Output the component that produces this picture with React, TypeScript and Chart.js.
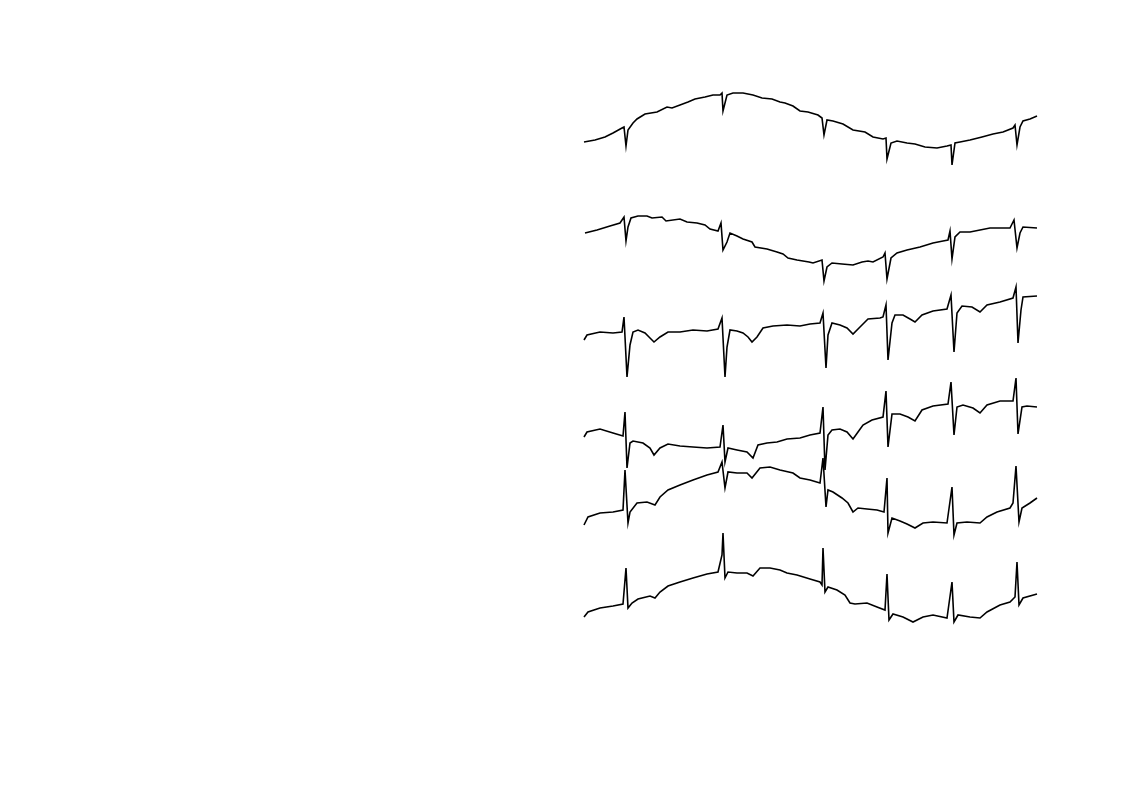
import React, { useEffect, useRef } from "react";
import { Chart, registerables } from "chart.js";

Chart.register(...registerables);

// Six stacked ECG leads. x = sample (ms/≈22), y = amplitude units incl. lead offset.
const lead1: number[][] = [
  [0, 498], [11, 500], [21, 503], [29, 507], [38, 512], [40, 513], [42, 494], [44, 510], [49, 517], [53, 521],
  [61, 526], [73, 528], [83, 533], [88, 532], [96, 535], [104, 538], [111, 541], [121, 543], [129, 545], [136, 545],
  [138, 547], [139, 529], [143, 545], [149, 547], [159, 547], [169, 545], [178, 542], [188, 541], [196, 538], [201, 537],
  [209, 534], [216, 529], [224, 528], [234, 525], [238, 522], [240, 505], [243, 520], [249, 519], [259, 516], [269, 510],
  [281, 508], [289, 503], [299, 501], [302, 502], [303, 481], [307, 497], [313, 499], [323, 497], [331, 496], [341, 493],
  [353, 492], [363, 494], [367, 495], [368, 475], [371, 497], [376, 498], [386, 500], [398, 503], [409, 506], [419, 508],
  [429, 512], [431, 515], [433, 495], [436, 513], [439, 519], [446, 521], [453, 524],
];

const lead2: number[][] = [
  [1, 407], [13, 410], [26, 414], [36, 417], [40, 423], [42, 399], [44, 413], [47, 422], [54, 424], [63, 424],
  [68, 422], [78, 423], [82, 419], [96, 421], [103, 418], [113, 417], [121, 415], [126, 411], [134, 409], [137, 417],
  [139, 390], [143, 398], [146, 407], [153, 404], [159, 401], [168, 398], [171, 393], [183, 391], [193, 388], [199, 386],
  [204, 382], [213, 380], [225, 378], [229, 377], [238, 380], [240, 359], [243, 373], [248, 377], [258, 376], [269, 375],
  [278, 378], [284, 379], [289, 378], [299, 383], [301, 387], [303, 361], [307, 382], [313, 387], [323, 390], [336, 393],
  [349, 397], [359, 399], [364, 400], [366, 409], [368, 381], [371, 403], [376, 408], [386, 408], [396, 410], [406, 412],
  [416, 412], [426, 412], [430, 420], [433, 392], [436, 407], [439, 413], [453, 412],
];

const lead3: number[][] = [
  [0, 300], [3, 305], [16, 308], [29, 307], [38, 308], [40, 323], [43, 263], [46, 295], [49, 308], [54, 310],
  [61, 307], [66, 302], [70, 298], [76, 303], [84, 308], [96, 308], [109, 310], [123, 309], [134, 311], [138, 322],
  [141, 263], [143, 293], [146, 310], [153, 309], [159, 307], [164, 303], [168, 298], [173, 303], [179, 312], [189, 314],
  [203, 315], [216, 314], [226, 316], [236, 317], [239, 327], [242, 272], [244, 305], [248, 317], [256, 315], [263, 312],
  [269, 306], [276, 313], [284, 321], [296, 322], [299, 323], [302, 335], [304, 280], [308, 317], [311, 325], [319, 325],
  [326, 321], [331, 318], [338, 325], [349, 329], [363, 331], [367, 345], [370, 288], [373, 327], [378, 334], [388, 333],
  [396, 328], [403, 335], [416, 338], [429, 342], [432, 353], [434, 297], [437, 330], [439, 343], [453, 344],
];

const lead4: number[][] = [
  [0, 203], [3, 208], [16, 211], [29, 207], [39, 204], [41, 228], [43, 172], [46, 197], [49, 199], [59, 197],
  [66, 192], [70, 185], [76, 192], [84, 196], [96, 194], [109, 193], [123, 192], [136, 193], [139, 215], [141, 178],
  [144, 192], [153, 190], [163, 188], [169, 182], [174, 195], [183, 197], [193, 198], [203, 201], [216, 202], [226, 205],
  [236, 207], [239, 233], [241, 170], [244, 205], [248, 210], [256, 211], [263, 208], [269, 201], [274, 208], [279, 215],
  [288, 220], [299, 223], [302, 249], [304, 193], [308, 226], [316, 226], [324, 223], [331, 219], [338, 230], [349, 234],
  [364, 236], [367, 258], [370, 205], [373, 233], [379, 235], [389, 232], [396, 227], [403, 235], [416, 239], [429, 239],
  [432, 262], [434, 206], [438, 233], [443, 234], [453, 233],
];

const lead5: number[][] = [
  [0, 115], [4, 123], [16, 127], [29, 128], [39, 130], [41, 170], [44, 117], [46, 128], [53, 137], [63, 138],
  [71, 135], [76, 143], [84, 150], [96, 155], [109, 160], [123, 165], [134, 168], [138, 178], [141, 152], [144, 168],
  [153, 167], [163, 167], [168, 162], [176, 172], [186, 173], [196, 170], [209, 167], [216, 162], [226, 160], [236, 157],
  [239, 182], [242, 133], [244, 150], [249, 148], [258, 142], [264, 137], [269, 128], [274, 132], [283, 131], [293, 130],
  [300, 128], [303, 162], [304, 107], [308, 122], [316, 119], [323, 116], [331, 112], [339, 117], [349, 118], [363, 117],
  [368, 153], [370, 105], [373, 117], [383, 118], [396, 117], [403, 123], [413, 128], [426, 132], [429, 137], [432, 174],
  [435, 118], [438, 132], [446, 137], [453, 142],
];

const lead6: number[][] = [
  [0, 23], [4, 28], [16, 32], [29, 34], [39, 36], [42, 72], [44, 32], [48, 37], [54, 41], [66, 44],
  [71, 42], [76, 48], [84, 54], [96, 58], [109, 62], [123, 66], [134, 68], [138, 85], [139, 107], [141, 62],
  [144, 68], [153, 67], [163, 67], [169, 64], [176, 72], [186, 72], [196, 70], [203, 67], [213, 65], [226, 61],
  [236, 58], [238, 55], [239, 92], [241, 48], [244, 53], [253, 50], [261, 45], [266, 37], [271, 36], [283, 37],
  [293, 33], [301, 30], [303, 66], [305, 20], [309, 26], [319, 23], [329, 18], [339, 23], [349, 25], [363, 22],
  [368, 58], [370, 18], [374, 25], [386, 23], [396, 22], [403, 28], [416, 35], [426, 38], [431, 43], [433, 78],
  [435, 35], [439, 42], [453, 46],
];

const leads = [lead1, lead2, lead3, lead4, lead5, lead6];
const leadNames = ["I", "II", "III", "aVR", "aVL", "aVF"];

export default function App() {
  const ref = useRef<HTMLCanvasElement | null>(null);
  useEffect(() => {
    if (!ref.current) return;
    const chart = new Chart(ref.current, {
      type: "line",
      data: {
        datasets: leads.map((pts, i) => ({
          label: leadNames[i],
          data: pts.map(([x, y]) => ({ x, y })),
          borderColor: "#000000",
          borderWidth: 1.6,
          pointRadius: 0,
          tension: 0,
          fill: false,
          clip: false as any,
        })),
      },
      options: {
        animation: false,
        responsive: false,
        maintainAspectRatio: false,
        layout: { padding: { left: 584, right: 85, top: 80, bottom: 153 } },
        scales: {
          x: { type: "linear", min: 0, max: 453, display: false },
          y: { type: "linear", min: 0, max: 560, display: false },
        },
        plugins: { legend: { display: false }, tooltip: { enabled: false } },
      },
    });
    return () => chart.destroy();
  }, []);
  return (
    <div style={{ position: "absolute", left: 0, top: 0, width: 1122, height: 793, background: "#fff" }}>
      <canvas ref={ref} width={1122} height={793} style={{ display: "block" }} />
    </div>
  );
}
